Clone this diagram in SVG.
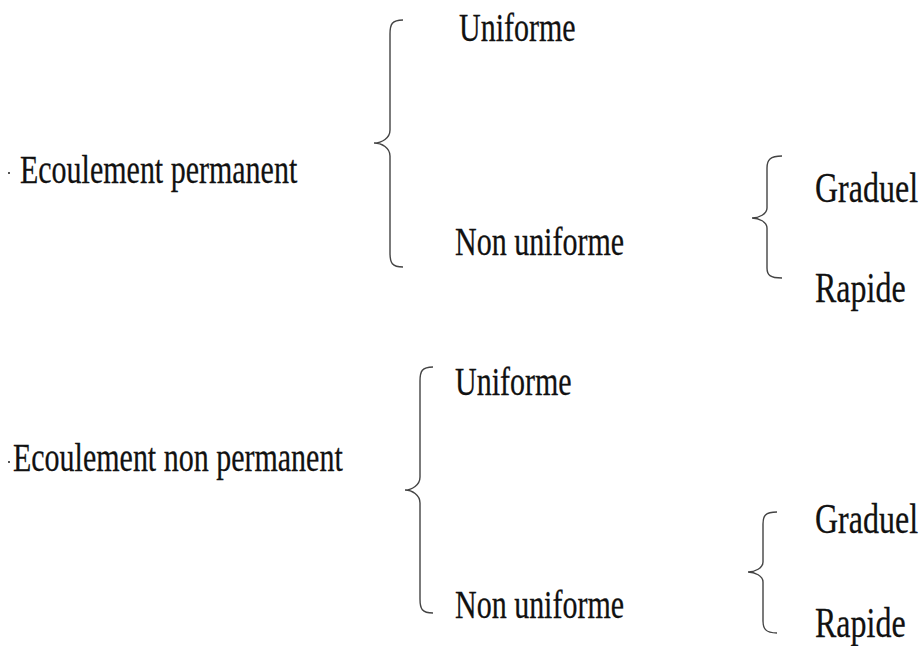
<svg xmlns="http://www.w3.org/2000/svg" width="924" height="646" viewBox="0 0 924 646">
<style>
.t{font-family:"Liberation Serif","Times New Roman",serif;font-size:30px;fill:#111;stroke:#111;stroke-width:0.2}
.g{font-size:32px}
.b{fill:none;stroke:#444;stroke-width:1.4}
.d{fill:#555}
</style>
<rect width="924" height="646" fill="#fff"/>
<g id="connectors">
<path class="b" d="M403,20 C392,20 390,24 390,34 L390,130 C390,138 382,143 374,143 C382,143 390,148 390,156 L390,253 C390,263 392,267 403,267"/>
<path class="b" d="M782,156 C770,156 767,160 767,168 L767,208 C767,214 759,218 752,218 C759,218 767,222 767,228 L767,268 C767,275 770,278 782,278"/>
<path class="b" d="M433,367 C422,367 420,371 420,381 L420,477 C420,485 412,490 405,490 C412,490 420,495 420,503 L420,599 C420,609 422,613 433,613"/>
<path class="b" d="M777,512 C765,512 763,516 763,524 L763,562 C763,568 755,572 748,572 C755,572 763,576 763,582 L763,621 C763,628 765,633 777,633"/>
</g>
<g id="n-ecoulement-permanent">
<rect class="d" x="8" y="172" width="2" height="2"/>
<text class="t" transform="translate(20,183) scale(1,1.33)">Ecoulement permanent</text>
</g>
<g id="n-uniforme-1"><text class="t" transform="translate(459,41) scale(1,1.33)">Uniforme</text></g>
<g id="n-non-uniforme-1"><text class="t" transform="translate(455,255) scale(1,1.33)">Non uniforme</text></g>
<g id="n-graduel-1"><text class="t g" transform="translate(815,202) scale(1,1.33)">Graduel</text></g>
<g id="n-rapide-1"><text class="t g" transform="translate(815,302) scale(1,1.33)">Rapide</text></g>
<g id="n-ecoulement-non-permanent">
<rect class="d" x="8" y="461" width="2" height="2"/>
<text class="t" transform="translate(13,471) scale(1,1.33)">Ecoulement non permanent</text>
</g>
<g id="n-uniforme-2"><text class="t" transform="translate(455,395) scale(1,1.33)">Uniforme</text></g>
<g id="n-non-uniforme-2"><text class="t" transform="translate(455,618) scale(1,1.33)">Non uniforme</text></g>
<g id="n-graduel-2"><text class="t g" transform="translate(815,533) scale(1,1.33)">Graduel</text></g>
<g id="n-rapide-2"><text class="t g" transform="translate(815,637) scale(1,1.33)">Rapide</text></g>
</svg>
